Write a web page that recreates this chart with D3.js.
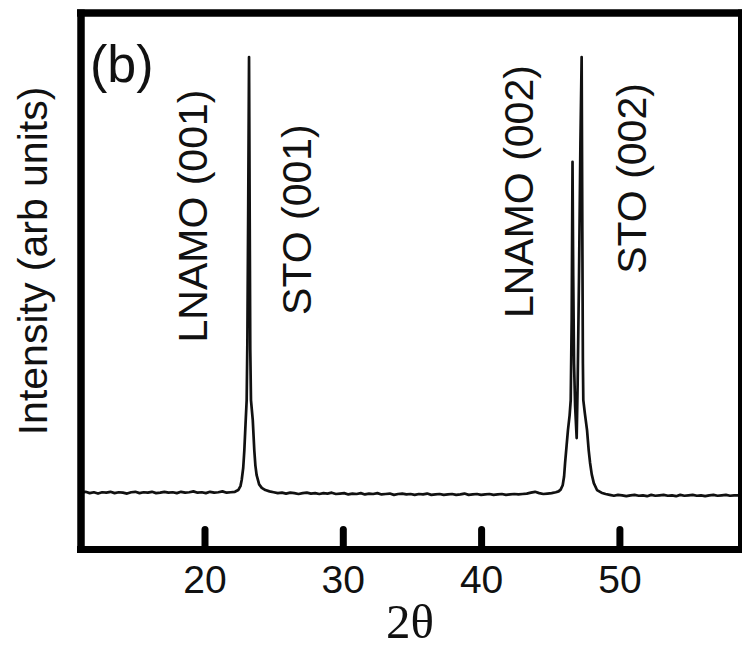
<!DOCTYPE html>
<html>
<head>
<meta charset="utf-8">
<script src="https://cdn.jsdelivr.net/npm/d3@7"></script>
<style>
	html, body { margin: 0; padding: 0; background: #fff; }
	svg { display: block; }
	text { font-family: "Liberation Sans", Arial, Helvetica, sans-serif; fill: #111; }
</style>
</head>
<body>
<svg id="chart" width="742" height="648"></svg>
<script>
// DATA (2theta in degrees, intensity in arbitrary units)

// flat background before the (001) reflections
const scanLeft = [
	[11.1,0.003],[11.4,0.005],[11.7,0.002],[12.0,0.004],[12.3,0.001],[12.6,0.004],[12.9,0.003],
	[13.2,0.005],[13.5,0.002],[13.8,0.004],[14.1,0.003],[14.4,0.001],[14.7,0.004],[15.0,0.005],
	[15.3,0.002],[15.6,0.004],[15.9,0.003],[16.2,0.005],[16.5,0.002],[16.8,0.003],[17.1,0.005],
	[17.4,0.003],[17.7,0.004],[18.0,0.002],[18.3,0.005],[18.6,0.003],[18.9,0.004],[19.2,0.006],
	[19.5,0.003],[19.8,0.004],[20.1,0.002],[20.4,0.005],[20.7,0.003],[21.0,0.004],[21.3,0.006],
	[21.6,0.003],[21.9,0.004],[22.2,0.005]
];

// LNAMO (001) / STO (001) peak
const peak001 = [
	[22.44,0.009],[22.6,0.018],[22.69,0.032],[22.8,0.06],[22.88,0.10],[22.98,0.169],[23.05,0.215],
	[23.1,0.35],[23.16,0.65],[23.22,1.0],[23.27,0.62],[23.31,0.33],[23.36,0.215],[23.49,0.169],
	[23.6,0.10],[23.68,0.065],[23.77,0.043],[23.95,0.022],[24.14,0.014],[24.4,0.009],[24.7,0.006]
];

// background between the two peak groups
const scanMid = [
	[25.0,0.004],[25.3,0.002],[25.6,0.003],[25.9,0.001],[26.2,0.003],[26.5,0.002],[26.8,0.0],
	[27.1,0.002],[27.4,0.003],[27.7,0.001],[28.0,0.002],[28.3,0.0],[28.6,0.002],[28.9,0.001],
	[29.2,0.003],[29.5,0.0],[29.8,0.001],[30.1,0.002],[30.4,-0.001],[30.7,0.001],[31.0,0.0],
	[31.3,0.002],[31.6,-0.001],[31.9,0.001],[32.2,0.0],[32.5,0.002],[32.8,-0.001],[33.1,0.0],
	[33.4,0.001],[33.7,-0.002],[34.0,0.0],[34.3,0.001],[34.6,-0.001],[34.9,0.0],[35.2,-0.002],
	[35.5,0.0],[35.8,-0.001],[36.1,0.001],[36.4,-0.002],[36.7,-0.001],[37.0,0.0],[37.3,-0.002],
	[37.6,-0.001],[37.9,0.0],[38.2,-0.002],[38.5,-0.001],[38.8,0.001],[39.1,-0.002],[39.4,-0.001],
	[39.7,0.0],[40.0,-0.002],[40.3,-0.001],[40.6,0.0],[40.9,-0.002],[41.2,-0.001],[41.5,0.0],
	[41.8,-0.002],[42.1,-0.001],[42.4,0.0],[42.7,-0.001],[43.0,0.0],[43.3,0.001],[43.6,0.003],
	[43.9,0.005],[44.2,0.002],[44.5,0.0],[44.8,0.001],[45.1,0.002],[45.4,0.004]
];

// LNAMO (002) shoulder + STO (002) peak
const peak002 = [
	[45.6,0.006],[45.75,0.01],[45.9,0.02],[46.0,0.04],[46.07,0.07],[46.18,0.11],[46.28,0.146],
	[46.4,0.18],[46.48,0.215],[46.55,0.4],[46.61,0.76],[46.66,0.5],[46.72,0.3],[46.8,0.2],
	[46.91,0.128],[46.98,0.25],[47.08,0.5],[47.18,0.8],[47.27,1.0],[47.32,0.6],[47.36,0.3],
	[47.39,0.215],[47.5,0.185],[47.66,0.146],[47.78,0.1],[47.88,0.071],[48.0,0.045],[48.15,0.025],
	[48.38,0.009],[48.7,0.003],[49.0,0.0]
];

// background after the (002) reflections
const scanRight = [
	[49.3,-0.002],[49.6,-0.004],[49.9,-0.002],[50.2,-0.003],[50.5,-0.005],[50.8,-0.003],[51.1,-0.002],
	[51.4,-0.004],[51.7,-0.003],[52.0,-0.005],[52.3,-0.002],[52.6,-0.004],[52.9,-0.003],[53.2,-0.002],
	[53.5,-0.004],[53.8,-0.003],[54.1,-0.005],[54.4,-0.002],[54.7,-0.004],[55.0,-0.003],[55.3,-0.002],
	[55.6,-0.004],[55.9,-0.003],[56.2,-0.005],[56.5,-0.003],[56.8,-0.002],[57.1,-0.004],[57.4,-0.003],
	[57.7,-0.002],[58.0,-0.004],[58.3,-0.003],[58.6,-0.003]
];

const xTicks = [20, 30, 40, 50];

// peak labels: text and the 2theta / intensity where the label is centred (baseline side)
const peakLabels = ['LNAMO (001)', 'STO (001)', 'LNAMO (002)', 'STO (002)'];
const peakLabelX = [20.15, 27.72, 43.78, 51.95];
const peakLabelY = [0.636, 0.628, 0.692, 0.722];

const panelLabel = '(b)';
const xTitle = '2\u03b8';
const yTitle = 'Intensity (arb units)';

// LAYOUT
const svg = d3.select('#chart');
const frame = {left: 81, right: 740, top: 13, bottom: 549.5};

let x = d3.scaleLinear().domain([11.07, 58.72]).range([frame.left, frame.right]);
let y = d3.scaleLinear().domain([-0.119, 1.0915]).range([546, 17]);

let scan = [].concat(scanLeft, peak001, scanMid, peak002, scanRight);

let line = d3.line()
	.x(d => x(d[0]))
	.y(d => y(d[1]));

svg.append('path')
	.datum(scan)
	.attr('d', line)
	.attr('fill', 'none')
	.attr('stroke', '#111')
	.attr('stroke-width', 2.7)
	.attr('stroke-linejoin', 'round');

// frame: thick on left/top/bottom, thinner on the right
let borders = [
	{x1: frame.left, y1: 9.5, x2: frame.left, y2: 553, w: 7.5},
	{x1: 77, y1: frame.top, x2: 742, y2: frame.top, w: 7.5},
	{x1: 77, y1: frame.bottom, x2: 742, y2: frame.bottom, w: 7},
	{x1: frame.right, y1: 9.5, x2: frame.right, y2: 553, w: 4}
];
svg.selectAll('line.border')
	.data(borders)
	.enter().append('line')
	.attr('class', 'border')
	.attr('x1', d => d.x1).attr('y1', d => d.y1)
	.attr('x2', d => d.x2).attr('y2', d => d.y2)
	.attr('stroke', '#000')
	.attr('stroke-width', d => d.w);

// bottom axis, ticks pointing up into the plot
let xAxis = d3.axisBottom(x)
	.tickValues(xTicks)
	.tickSize(-20)
	.tickFormat(d3.format('d'));

let axisG = svg.append('g')
	.attr('transform', 'translate(0,' + frame.bottom + ')')
	.call(xAxis);

axisG.select('.domain').remove();
axisG.selectAll('.tick line')
	.attr('stroke', '#000')
	.attr('stroke-width', 7)
	.attr('stroke-linecap', 'round');
axisG.selectAll('.tick text')
	.attr('y', 43.5)
	.attr('dy', null)
	.attr('fill', '#111')
	.style('font-family', '"Liberation Sans", Arial, sans-serif')
	.style('font-size', '39px');

// axis titles
svg.append('text')
	.attr('x', 410)
	.attr('y', 638)
	.attr('text-anchor', 'middle')
	.style('font-family', '"Liberation Serif", "Times New Roman", serif')
	.style('font-size', '49px')
	.text(xTitle);

svg.append('text')
	.attr('transform', 'translate(47,261) rotate(-90)')
	.attr('text-anchor', 'middle')
	.style('font-size', '41px')
	.text(yTitle);

svg.append('text')
	.attr('x', 90)
	.attr('y', 82)
	.style('font-size', '52px')
	.text(panelLabel);

// rotated peak labels
peakLabels.forEach(function(label, i) {
	svg.append('text')
		.attr('transform', 'translate(' + x(peakLabelX[i]) + ',' + y(peakLabelY[i]) + ') rotate(-90)')
		.attr('text-anchor', 'middle')
		.style('font-size', '41px')
		.text(label);
});
</script>
</body>
</html>
